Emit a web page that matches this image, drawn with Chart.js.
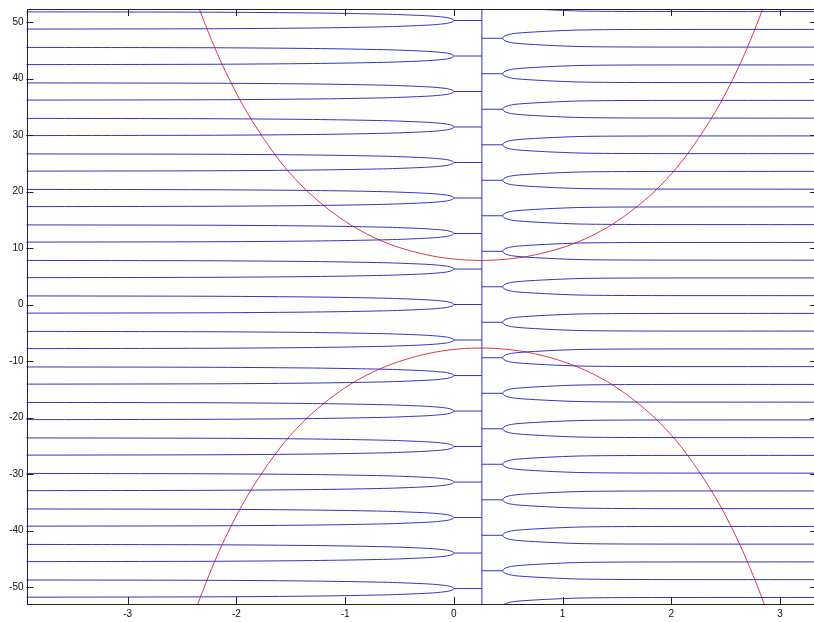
<!DOCTYPE html>
<html>
<head>
<meta charset="utf-8">
<script src="https://cdn.jsdelivr.net/npm/chart.js@4.4.1/dist/chart.umd.min.js"></script>
<style>
  html, body { margin: 0; padding: 0; background: #fff; overflow: hidden; }
  #wrap { width: 830px; height: 622px; }
</style>
</head>
<body>
<div id="wrap"><canvas id="chart"></canvas></div>
<script>
// axis limits and ticks
const xMin = -3.93, xMax = 3.34;
const yMin = -53.0, yMax = 52.3;
const xTickValues = [-3, -2, -1, 0, 1, 2, 3];
const yTickValues = [-50, -40, -30, -20, -10, 0, 10, 20, 30, 40, 50];

// vertical cut line
const cutX = 0.258;

// left hairpins: tip heights, tip x
const leftTipX = 0.0;
const leftTipY = [-50.27, -43.98, -37.70, -31.42, -25.13, -18.85, -12.57, -6.28, 0,
                  6.28, 12.57, 18.85, 25.13, 31.42, 37.70, 43.98, 50.27];
// right hairpins
const rightTipX = 0.45;
const rightTipY = [-53.41, -47.12, -40.84, -34.56, -28.27, -21.99, -15.71, -9.42, -3.14,
                   3.14, 9.42, 15.71, 21.99, 28.27, 34.56, 40.84, 47.12, 53.41];

// hairpin half-height, vs distance from tip
const leftProfileD = [0, 0.005, 0.015, 0.03, 0.06, 0.1, 0.15, 0.22, 0.3, 0.45, 0.6, 0.8, 1.0, 1.3, 1.7, 2.2, 2.8, 3.5, 4.2];
const leftProfileH = [0, 0.15, 0.26, 0.36, 0.5, 0.6, 0.7, 0.8, 0.88, 1.0, 1.1, 1.18, 1.25, 1.33, 1.4, 1.46, 1.49, 1.51, 1.53];
const rightProfileD = [0, 0.003, 0.01, 0.025, 0.05, 0.08, 0.12, 0.18, 0.25, 0.35, 0.5, 0.7, 1.0, 1.5, 3.0];
const rightProfileH = [0, 0.18, 0.32, 0.48, 0.65, 0.77, 0.88, 0.98, 1.07, 1.18, 1.32, 1.46, 1.53, 1.56, 1.57];

// red curves
const redX = [-2.55, -2.35, -2.15, -1.95, -1.75, -1.55, -1.35, -1.15, -0.95, -0.75, -0.55, -0.35, -0.15, 0.05, 0.25,
              0.45, 0.65, 0.85, 1.05, 1.25, 1.45, 1.65, 1.85, 2.05, 2.25, 2.45, 2.65, 2.85, 3.05];
const redUpperY = [64.4, 52.8, 43.3, 35.6, 29.4, 24.2, 20.1, 16.8, 14.1, 12.0, 10.4, 9.25, 8.43, 7.96, 7.8,
                   7.96, 8.43, 9.25, 10.4, 12.0, 14.1, 16.8, 20.1, 24.2, 29.4, 35.6, 43.3, 52.8, 64.4];
const redLowerY = [-64.4, -52.8, -43.3, -35.6, -29.4, -24.2, -20.1, -16.8, -14.1, -12.0, -10.4, -9.2, -8.35, -7.86, -7.7,
                   -7.86, -8.35, -9.2, -10.4, -12.0, -14.1, -16.8, -20.1, -24.2, -29.4, -35.6, -43.3, -52.8, -64.4];

const blue = 'rgb(52,52,192)';
const red = 'rgb(222,55,75)';

function hairpin(tipX, tipY, profD, profH, dir) {
    const pts = [];
    for (let i = profD.length - 1; i >= 0; i--) {
        pts.push({ x: tipX + dir * profD[i], y: tipY + profH[i] });
    }
    for (let i = 1; i < profD.length; i++) {
        pts.push({ x: tipX + dir * profD[i], y: tipY - profH[i] });
    }
    return pts;
}

function lineSet(data, color, tension) {
    return {
        data: data,
        borderColor: color,
        borderWidth: 1,
        pointRadius: 0,
        showLine: true,
        tension: tension || 0,
        fill: false
    };
}

const datasets = [];
leftTipY.forEach(ty => {
    datasets.push(lineSet(hairpin(leftTipX, ty, leftProfileD, leftProfileH, -1), blue, 0.3));
    datasets.push(lineSet([{ x: leftTipX, y: ty }, { x: cutX, y: ty }], blue));
});
rightTipY.forEach(ty => {
    datasets.push(lineSet(hairpin(rightTipX, ty, rightProfileD, rightProfileH, 1), blue, 0.3));
    datasets.push(lineSet([{ x: cutX, y: ty }, { x: rightTipX, y: ty }], blue));
});
datasets.push(lineSet([{ x: cutX, y: yMin - 5 }, { x: cutX, y: yMax + 5 }], blue));
datasets.push(lineSet(redX.map((x, i) => ({ x: x, y: redUpperY[i] })), red, 0.3));
datasets.push(lineSet(redX.map((x, i) => ({ x: x, y: redLowerY[i] })), red, 0.3));

// frame with inward ticks, MATLAB style
const framePlugin = {
    id: 'frame',
    afterDraw(chart) {
        const { ctx, chartArea: a, scales } = chart;
        ctx.save();
        ctx.strokeStyle = '#222';
        ctx.lineWidth = 1;
        ctx.strokeRect(Math.round(a.left) + 0.5, Math.round(a.top) + 0.5,
                       Math.round(a.right - a.left), Math.round(a.bottom - a.top));
        const len = 7;
        ctx.beginPath();
        xTickValues.forEach(v => {
            const px = Math.round(scales.x.getPixelForValue(v)) + 0.5;
            ctx.moveTo(px, a.bottom); ctx.lineTo(px, a.bottom - len);
            ctx.moveTo(px, a.top); ctx.lineTo(px, a.top + len);
        });
        yTickValues.forEach(v => {
            const py = Math.round(scales.y.getPixelForValue(v)) + 0.5;
            ctx.moveTo(a.left, py); ctx.lineTo(a.left + len, py);
            ctx.moveTo(a.right, py); ctx.lineTo(a.right - len, py);
        });
        ctx.stroke();
        ctx.restore();
    }
};

const tickFont = { family: "'Liberation Sans', Arial, sans-serif", size: 10 };

new Chart(document.getElementById('chart'), {
    type: 'scatter',
    data: { datasets: datasets },
    options: {
        responsive: true,
        maintainAspectRatio: false,
        animation: false,
        events: [],
        layout: { padding: { left: 0, top: 6, right: 13, bottom: 0 } },
        plugins: { legend: { display: false }, tooltip: { enabled: false } },
        scales: {
            x: {
                type: 'linear',
                min: xMin,
                max: xMax,
                afterBuildTicks: s => { s.ticks = xTickValues.map(v => ({ value: v })); },
                afterFit: s => { s.height = 18; },
                grid: { drawOnChartArea: false, drawTicks: false },
                border: { display: false },
                ticks: { color: '#111', font: tickFont, padding: 4, maxRotation: 0 }
            },
            y: {
                type: 'linear',
                min: yMin,
                max: yMax,
                afterBuildTicks: s => { s.ticks = yTickValues.map(v => ({ value: v })); },
                afterFit: s => { s.width = 26.5; },
                grid: { drawOnChartArea: false, drawTicks: false },
                border: { display: false },
                ticks: { color: '#111', font: tickFont, padding: 3 }
            }
        }
    },
    plugins: [framePlugin]
});
</script>
</body>
</html>
